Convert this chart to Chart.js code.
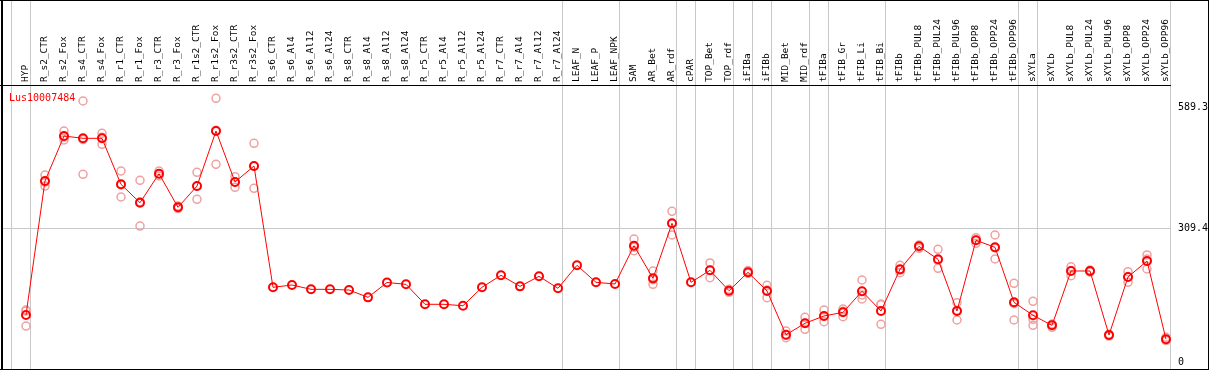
<!DOCTYPE html>
<html><head><meta charset="utf-8">
<script src="https://cdn.jsdelivr.net/npm/chart.js@4.4.1/dist/chart.umd.min.js"></script>
<style>html,body{margin:0;padding:0;background:#fff;} canvas{display:block;}</style>
</head><body>
<canvas id="c" width="1209" height="370"></canvas>
<script>
const geneName = "Lus10007484";
const categories = ["HYP","R_s2_CTR","R_s2_Fox","R_s4_CTR","R_s4_Fox","R_r1_CTR","R_r1_Fox","R_r3_CTR","R_r3_Fox","R_r1s2_CTR","R_r1s2_Fox","R_r3s2_CTR","R_r3s2_Fox","R_s6_CTR","R_s6_Al4","R_s6_Al12","R_s6_Al24","R_s8_CTR","R_s8_Al4","R_s8_Al12","R_s8_Al24","R_r5_CTR","R_r5_Al4","R_r5_Al12","R_r5_Al24","R_r7_CTR","R_r7_Al4","R_r7_Al12","R_r7_Al24","LEAF_N","LEAF_P","LEAF_NPK","SAM","AR_Bet","AR_rdf","cPAR","TOP_Bet","TOP_rdf","iFIBa","iFIBb","MID_Bet","MID_rdf","tFIBa","tFIB_Gr","tFIB_Li","tFIB_Bi","tFIBb","tFIBb_PUL8","tFIBb_PUL24","tFIBb_PUL96","tFIBb_OPP8","tFIBb_OPP24","tFIBb_OPP96","sXYLa","sXYLb","sXYLb_PUL8","sXYLb_PUL24","sXYLb_PUL96","sXYLb_OPP8","sXYLb_OPP24","sXYLb_OPP96"];
const meanValues = [109.8,419.4,523.4,518.1,518.1,411.8,369.2,436.3,358.7,407.8,535.0,417.1,454.1,
  173.8,179.1,169.1,169.1,167.5,150.6,184.9,180.7,134.5,134.5,131.2,173.8,201.5,176.0,199.2,171.5,224.6,185.3,181.4,
  269.9,194.5,321.7,185.3,213.0,165.9,208.4,165.3,64.2,90.6,107.5,116.0,164.6,119.0,215.3,268.5,238.5,119.0,282.4,266.2,139.1,109.1,85.9,211.5,211.5,63.6,197.6,234.5,53.6];
const rep1 = [121.3,433.3,535.0,604.3,529.6,442.6,421.0,442.6,361.6,439.5,610.5,429.4,506.6,
  null,null,null,null,null,null,null,null,null,null,null,null,null,null,null,null,null,null,null,
  285.4,211.5,349.4,null,230.0,169.1,212.5,178.4,72.8,104.4,121.3,123.6,190.7,135.2,224.6,271.5,261.6,138.1,288.4,294.7,183.0,141.4,88.3,221.3,213.7,65.2,209.9,248.5,58.2];
const rep2 = [119.0,417.1,521.1,515.1,520.4,410.2,371.6,435.6,358.2,407.1,536.6,417.1,453.3,
  null,null,null,null,null,null,null,null,null,null,null,null,null,null,null,null,null,null,null,
  266.2,191.4,320.8,null,213.0,166.4,206.7,167.5,62.9,90.6,106.8,118.3,156.0,133.6,213.7,269.9,236.2,120.6,283.1,264.6,135.9,99.8,88.3,212.1,211.5,63.6,197.6,239.2,52.0];
const rep3 = [84.3,407.8,514.2,434.9,504.2,382.5,315.4,431.0,355.8,377.2,458.0,404.9,402.6,
  null,null,null,null,null,null,null,null,null,null,null,null,null,null,null,null,null,null,null,
  258.3,180.7,294.7,null,196.0,162.2,206.1,149.7,57.3,76.7,94.3,105.8,146.8,88.3,207.5,263.9,217.7,98.2,275.5,239.2,98.2,85.9,81.4,200.6,209.1,61.2,185.3,216.1,50.8];
// group separators: drawn after these category indices
const groupEnds = [-1,0,28,31,34,35,37,38,39,41,42,45,52,53,60];
const yTickValues = [0, 309.4, 589.3];
const yTickLabels = ["0", "309.4", "589.3"];

const X_MIN = -1.2105, X_MAX = 60.263;
const toPts = arr => arr.map((v,i)=> v==null ? null : {x:i, y:v}).filter(p=>p);
const repStyle = {showLine:false, pointRadius:4, pointHoverRadius:4, pointBorderWidth:1.5,
  pointBorderColor:'#f0a0a0', pointBackgroundColor:'rgba(0,0,0,0)', borderColor:'#f0a0a0'};
const noPad = s => { s.paddingLeft = 0; s.paddingRight = 0; s.paddingTop = 0; s.paddingBottom = 0; };

const groupLinePlugin = {id:'groupLines', beforeDatasetsDraw(chart){
  const {ctx, chartArea} = chart; const xs = chart.scales.x;
  ctx.save(); ctx.fillStyle = '#c8c8c8';
  groupEnds.forEach(b => {
    const px = Math.floor(xs.getPixelForValue(b + 0.25));
    ctx.fillRect(px, 0, 1, chartArea.bottom);
  });
  ctx.restore();
}};
const framePlugin = {id:'frame', afterDraw(chart){
  const ctx = chart.ctx; ctx.save(); ctx.fillStyle='#000';
  ctx.fillRect(1,0,2,370); ctx.fillRect(0,0,1209,1); ctx.fillRect(0,369,1209,1); ctx.fillRect(1208,0,1,370);
  ctx.fillRect(0, chart.chartArea.top - 1, 1171, 1);
  ctx.restore();
}};
const genePlugin = {id:'gene', afterDatasetsDraw(chart){
  const {ctx, chartArea} = chart; ctx.save();
  ctx.font = '10px "DejaVu Sans Mono"'; ctx.fillStyle = '#ff0000'; ctx.textBaseline='alphabetic'; ctx.textAlign='left';
  ctx.fillText(geneName, chartArea.left + 6, chartArea.top + 15);
  ctx.restore();
}};

new Chart(document.getElementById('c'), {
  type: 'scatter',
  data: { datasets: [
    {label:'mean', data: toPts(meanValues), showLine:true, borderColor:'#ff0000', borderWidth:1,
     pointRadius:4, pointHoverRadius:4, pointBorderWidth:2, pointBorderColor:'#ff0000', pointBackgroundColor:'rgba(0,0,0,0)', xAxisID:'x', yAxisID:'y'},
    Object.assign({label:'rep1', data: toPts(rep1), xAxisID:'x', yAxisID:'y'}, repStyle),
    Object.assign({label:'rep2', data: toPts(rep2), xAxisID:'x', yAxisID:'y'}, repStyle),
    Object.assign({label:'rep3', data: toPts(rep3), xAxisID:'x', yAxisID:'y'}, repStyle)
  ]},
  options: {
    responsive:false, devicePixelRatio:1, animation:false,
    layout:{autoPadding:false, padding:{left:3, right:0, top:0, bottom:1}},
    plugins:{legend:{display:false}, tooltip:{enabled:false}, title:{display:false}},
    scales:{
      x:{type:'linear', position:'top', min:X_MIN, max:X_MAX,
        afterBuildTicks: s => { s.ticks = categories.map((_,i)=>({value:i})); },
        afterFit: s => { s.height = 86; noPad(s); },
        ticks:{autoSkip:false, maxRotation:90, minRotation:90, padding:4, labelOffset:11, color:'#000',
          font:{family:'DejaVu Sans Mono', size:9.5}, callback: v => categories[Math.round(v)]},
        grid:{display:false, drawTicks:false},
        border:{display:false}
      },
      y:{type:'linear', position:'right', min:-15, max:639,
        afterBuildTicks: s => { s.ticks = yTickValues.map(v=>({value:v})); },
        afterFit: s => { s.width = 38; noPad(s); },
        ticks:{padding:7, color:'#000', font:{family:'DejaVu Sans Mono', size:10},
          callback: v => yTickLabels[yTickValues.indexOf(v)]},
        grid:{drawTicks:false, color: c => (c.tick && c.tick.value === yTickValues[1]) ? '#c8c8c8' : 'rgba(0,0,0,0)'},
        border:{display:false}
      }
    }
  },
  plugins:[groupLinePlugin, framePlugin, genePlugin]
});
</script>
</body></html>
